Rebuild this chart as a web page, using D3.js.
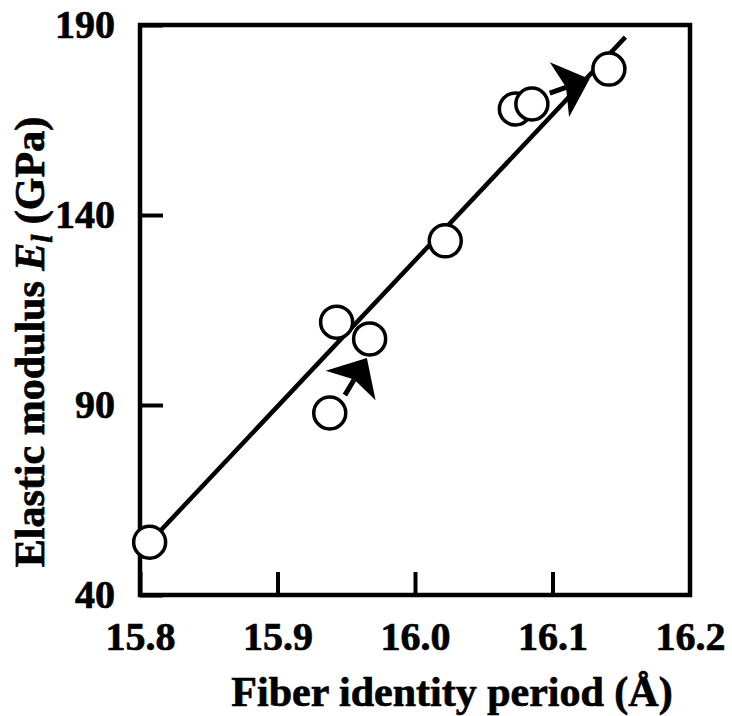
<!DOCTYPE html>
<html>
<head>
<meta charset="utf-8">
<script src="https://cdn.jsdelivr.net/npm/d3@7"></script>
<style>
  body { margin: 0; background: #fff; }
  text { font-family: "Liberation Serif", "Times New Roman", serif; font-weight: bold; fill: #000; stroke: #000; stroke-width: 0.7px; }
</style>
</head>
<body>
<div id="container"></div>
<script>
const width = 732;
const height = 716;
const margin = {top: 25, right: 42, bottom: 121, left: 140};

// measured points: fiber identity period (A) vs elastic modulus (GPa)
const period = [15.807, 15.938, 15.943, 15.967, 16.022, 16.073, 16.085, 16.141];
const modulus = [53.9, 87.9, 111.8, 107.4, 133.2, 167.9, 169.2, 178.4];

// fitted line, two end points
const fitX = [15.807, 16.153];
const fitY = [53.9, 186.8];

// arrows: start -> tip
const arrowFrom = [[15.949, 92.6], [16.098, 172.1]];
const arrowTo = [[15.965, 102.4], [16.127, 175.8]];

const xTicks = [15.8, 15.9, 16.0, 16.1, 16.2];
const yTicks = [40, 90, 140, 190];

const svg = d3.select("div#container").append("svg")
    .attr("width", width)
    .attr("height", height);

const xScale = d3.scaleLinear()
    .domain([15.8, 16.2])
    .range([margin.left, width - margin.right]);
const yScale = d3.scaleLinear()
    .domain([40, 190])
    .range([height - margin.bottom, margin.top]);

const xaxis = d3.axisBottom(xScale)
    .tickValues(xTicks)
    .tickFormat(d3.format(".1f"))
    .tickSizeInner(-23)
    .tickSizeOuter(0)
    .tickPadding(27);
const yaxis = d3.axisLeft(yScale)
    .tickValues(yTicks)
    .tickFormat(d3.format("d"))
    .tickSizeInner(-23)
    .tickSizeOuter(0)
    .tickPadding(25);

const gx = svg.append("g")
    .attr("transform", "translate(0," + (height - margin.bottom) + ")")
    .call(xaxis);
const gy = svg.append("g")
    .attr("transform", "translate(" + margin.left + ",0)")
    .call(yaxis);

[gx, gy].forEach(function(g) {
    g.select(".domain").remove();
    g.selectAll(".tick line").attr("stroke", "#000").attr("stroke-width", 4);
    g.selectAll(".tick text").style("font-size", "40px");
});
gx.selectAll(".tick text").attr("dy", "0.71em");
// the last x tick coincides with the frame
gx.selectAll(".tick").filter(function(d) { return d === 16.2; }).select("line").remove();

// frame
svg.append("rect")
    .attr("x", xScale(15.8))
    .attr("y", yScale(190))
    .attr("width", xScale(16.2) - xScale(15.8))
    .attr("height", yScale(40) - yScale(190))
    .attr("fill", "none")
    .attr("stroke", "#000")
    .attr("stroke-width", 4.5);

// fit line
svg.append("line")
    .attr("x1", xScale(fitX[0])).attr("y1", yScale(fitY[0]))
    .attr("x2", xScale(fitX[1])).attr("y2", yScale(fitY[1]))
    .attr("stroke", "#000")
    .attr("stroke-width", 4.5);

// arrows
arrowFrom.forEach(function(a, i) {
    const x0 = xScale(a[0]), y0 = yScale(a[1]);
    const x1 = xScale(arrowTo[i][0]), y1 = yScale(arrowTo[i][1]);
    const len = Math.hypot(x1 - x0, y1 - y0);
    const ux = (x1 - x0) / len, uy = (y1 - y0) / len;
    const px = -uy, py = ux;
    const hl = 32, hw = 29, notch = 7;
    const bx = x1 - ux * hl, by = y1 - uy * hl;
    svg.append("line")
        .attr("x1", x0).attr("y1", y0)
        .attr("x2", bx + ux * notch).attr("y2", by + uy * notch)
        .attr("stroke", "#000")
        .attr("stroke-width", 5);
    const pts = [
        [x1, y1],
        [bx + px * hw, by + py * hw],
        [bx + ux * notch, by + uy * notch],
        [bx - px * hw, by - py * hw]
    ];
    svg.append("path")
        .attr("d", d3.line()(pts) + "Z")
        .attr("fill", "#000");
});

// points
svg.append("g").selectAll("circle")
    .data(period)
    .enter().append("circle")
    .attr("cx", function(d) { return xScale(d); })
    .attr("cy", function(d, i) { return yScale(modulus[i]); })
    .attr("r", 16)
    .attr("fill", "#fff")
    .attr("stroke", "#000")
    .attr("stroke-width", 3.5);

// axis titles
svg.append("text")
    .attr("x", 452)
    .attr("y", 706)
    .attr("text-anchor", "middle")
    .style("font-size", "42px")
    .text("Fiber identity period (Å)");

const ylab = svg.append("text")
    .attr("transform", "translate(44," + 342 + ") rotate(-90)")
    .attr("text-anchor", "middle")
    .style("font-size", "42px");
ylab.append("tspan").text("Elastic modulus ");
ylab.append("tspan").style("font-style", "italic").text("E");
ylab.append("tspan").style("font-style", "italic").style("font-size", "29px").attr("dy", 8).text("l");
ylab.append("tspan").attr("dy", -8).text(" (GPa)");
</script>
</body>
</html>
